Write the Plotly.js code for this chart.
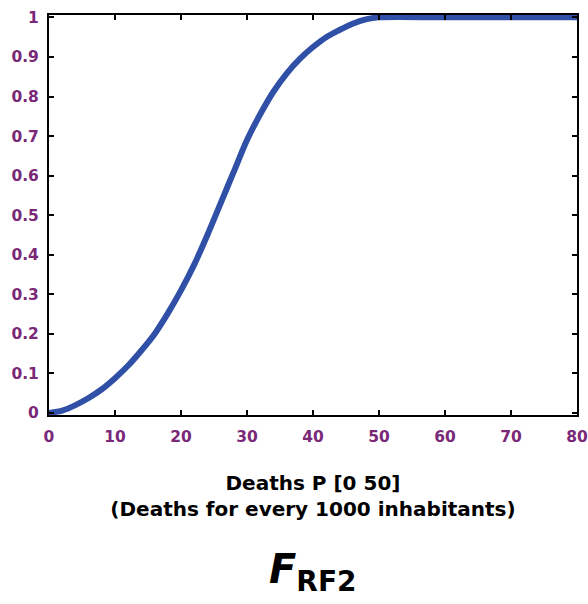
<!DOCTYPE html>
<html><head><meta charset="utf-8">
<script src="https://cdn.plot.ly/plotly-3.0.1.min.js"></script>
<style>body{margin:0;padding:0;background:#fff}</style>
</head><body>
<div id="chart" style="width:588px;height:604px"></div>
<script>
const deaths = [0, 2, 4, 6, 8, 10, 12, 14, 16, 18, 20, 22, 24, 26, 28, 30, 32, 34, 36, 38, 40, 42, 44, 46, 48, 50, 60, 70, 80];
const probability = [0, 0.006, 0.02, 0.038, 0.06, 0.088, 0.12, 0.158, 0.2, 0.252, 0.31, 0.375, 0.45, 0.53, 0.61, 0.69, 0.755, 0.812, 0.858, 0.895, 0.925, 0.95, 0.968, 0.984, 0.995, 1, 1, 1, 1];
const xTicks = [0, 10, 20, 30, 40, 50, 60, 70, 80];
const yTicks = [0, 0.1, 0.2, 0.3, 0.4, 0.5, 0.6, 0.7, 0.8, 0.9, 1];
const xTitleLines = ['Deaths P [0 50]', '(Deaths for every 1000 inhabitants)'];
const chartLabel = '<i><b>F</b></i><b><sub>RF2</sub></b>';

const fam = 'DejaVu Sans, Verdana, sans-serif';
const tickFont = {family: fam, size: 15.5, color: '#7a2878', weight: 'bold'};

Plotly.newPlot('chart', [{
  x: deaths, y: probability, type: 'scatter', mode: 'lines',
  line: {color: '#2f50a6', width: 6, shape: 'spline', smoothing: 0.8},
  hoverinfo: 'skip', cliponaxis: false
}], {
  width: 588, height: 604,
  margin: {l: 49, r: 11, t: 15, b: 189},
  paper_bgcolor: '#fff', plot_bgcolor: '#fff',
  showlegend: false,
  font: {family: fam},
  xaxis: {
    range: [0, 80], tickvals: xTicks, ticktext: xTicks.map(String),
    showgrid: false, zeroline: false, showline: true, linecolor: '#000', linewidth: 2,
    mirror: 'ticks', ticks: 'inside', ticklen: 5, tickwidth: 2, tickcolor: '#000',
    tickfont: tickFont, ticklabelstandoff: 6,
    title: {text: xTitleLines.map(s => '<b>' + s + '</b>').join('<br>'), font: {family: fam, size: 20, color: '#000'}, standoff: 31}
  },
  yaxis: {
    range: [-0.005, 1.006], tickvals: yTicks, ticktext: yTicks.map(String),
    showgrid: false, zeroline: false, showline: true, linecolor: '#000', linewidth: 2,
    mirror: 'ticks', ticks: 'inside', ticklen: 5, tickwidth: 2, tickcolor: '#000',
    tickfont: tickFont, ticklabelstandoff: 5
  },
  annotations: [{
    text: chartLabel, xref: 'paper', yref: 'paper', x: 0.5, y: -0.392, xanchor: 'center', yanchor: 'middle',
    showarrow: false, font: {family: fam, size: 40, color: '#000'}
  }]
}, {displayModeBar: false, staticPlot: true});
</script>
</body></html>
